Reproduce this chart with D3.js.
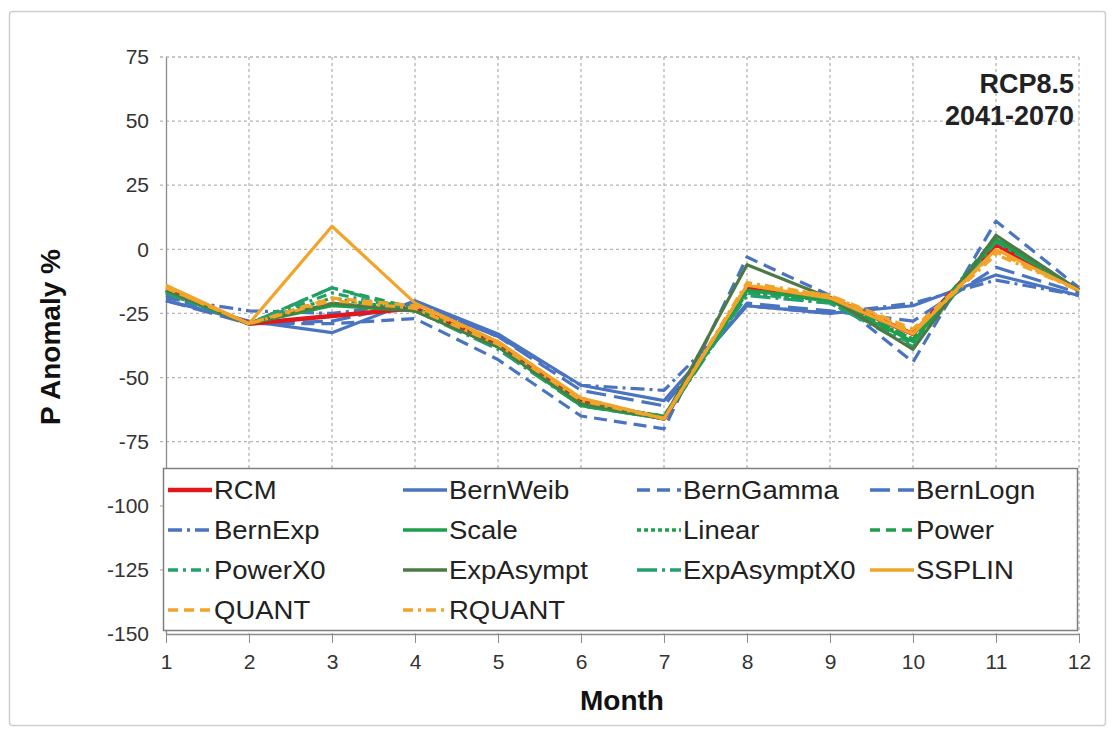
<!DOCTYPE html>
<html>
<head>
<meta charset="utf-8">
<script src="https://cdn.jsdelivr.net/npm/d3@7"></script>
<style>
  body { margin: 0; background: #fff; }
  svg { display: block; font-family: "Liberation Sans", Arial, sans-serif; }
</style>
</head>
<body>
<svg width="1115" height="731"></svg>
<script>
// months on the x axis
var months = [1, 2, 3, 4, 5, 6, 7, 8, 9, 10, 11, 12];
var yTicks = [-150, -125, -100, -75, -50, -25, 0, 25, 50, 75];

// precipitation anomaly (%) per method
var RCM         = [-16, -29, -26, -23, -37, -59, -66, -15, -19, -33,  2,  -16];
var BernWeib    = [-20, -28, -32.5, -20, -33, -53, -59, -22, -25, -22, -10, -18];
var BernGamma   = [-18, -29, -29, -27, -43, -65, -70,  -3, -18, -44, 11,  -15];
var BernLogn    = [-20, -29, -28, -21, -34, -55, -61, -21, -24, -28, -7,  -17];
var BernExp     = [-19, -24, -25, -21, -34, -53, -55, -22, -25, -21, -12, -18];
var Scale       = [-16, -29, -22, -24, -38, -61, -66, -16, -20, -36,  4,  -16];
var Linear      = [-16, -29, -19, -24, -38, -60, -65, -17, -20, -35,  3,  -16];
var Power       = [-16, -29, -15, -23, -38, -60, -65, -16, -19, -35,  5,  -16];
var PowerX0     = [-17, -29, -17, -24, -38, -61, -66, -17, -21, -37,  4,  -16];
var ExpAsympt   = [-16, -29, -21, -24, -38, -60, -66,  -6, -19, -39, 5.5, -16];
var ExpAsymptX0 = [-17, -29, -15, -24, -39, -61, -66, -18, -21, -38,  3,  -16];
var SSPLIN      = [-14, -29,   9, -21, -36, -58, -66, -14, -19, -33,  0,  -16];
var QUANT       = [-15, -29, -19, -22, -36, -58, -66, -14, -18, -31, -1,  -16];
var RQUANT      = [-15, -29, -20, -23, -37, -59, -66, -13, -18, -32, -2,  -16];

var seriesNames = ["RCM", "BernWeib", "BernGamma", "BernLogn", "BernExp", "Scale", "Linear",
    "Power", "PowerX0", "ExpAsympt", "ExpAsymptX0", "SSPLIN", "QUANT", "RQUANT"];
var seriesValues = [RCM, BernWeib, BernGamma, BernLogn, BernExp, Scale, Linear,
    Power, PowerX0, ExpAsympt, ExpAsymptX0, SSPLIN, QUANT, RQUANT];

// line look per method
var blue = "#4a74c0", green = "#1f9e4b", teal = "#25a06c", orange = "#f2a42a";
var styles = {
    RCM:         { color: "#e3161b", dash: null, w: 4.5 },
    BernWeib:    { color: blue, dash: null, w: 3.2 },
    BernGamma:   { color: blue, dash: "13,7", w: 3.2 },
    BernLogn:    { color: blue, dash: "20,8", w: 3.2 },
    BernExp:     { color: blue, dash: "14,5,3,5", w: 3.2 },
    Scale:       { color: green, dash: null, w: 3.2 },
    Linear:      { color: green, dash: "4,3", w: 3.2 },
    Power:       { color: green, dash: "10,6", w: 3.2 },
    PowerX0:     { color: teal, dash: "10,5,3,5", w: 3.2 },
    ExpAsympt:   { color: "#4d7a44", dash: null, w: 3.2 },
    ExpAsymptX0: { color: teal, dash: "20,5,3,5", w: 3.2 },
    SSPLIN:      { color: orange, dash: null, w: 3.2 },
    QUANT:       { color: orange, dash: "10,6", w: 3.2 },
    RQUANT:      { color: orange, dash: "10,5,3,5", w: 3.2 }
};

var svg = d3.select("svg");

// outer frame
svg.append("rect")
    .attr("x", 9.5).attr("y", 11.5)
    .attr("width", 1096).attr("height", 714)
    .attr("rx", 3)
    .attr("fill", "#fff")
    .attr("stroke", "#cfcfcf")
    .attr("stroke-width", 1.5);

var x = d3.scaleLinear().domain([1, 12]).range([166, 1079]);
var y = d3.scaleLinear().domain([-150, 75]).range([634, 57]);

// grid
var grid = svg.append("g");
grid.selectAll(".hg")
    .data(yTicks.filter(d => d > -150))
    .enter().append("line")
    .attr("x1", x(1) - 6).attr("x2", x(12))
    .attr("y1", d => y(d)).attr("y2", d => y(d))
    .attr("stroke", "#b5b5b5")
    .attr("stroke-width", 1.3)
    .attr("stroke-dasharray", "3,3");
grid.selectAll(".vg")
    .data(months.filter(d => d > 1))
    .enter().append("line")
    .attr("x1", d => x(d)).attr("x2", d => x(d))
    .attr("y1", y(75)).attr("y2", y(-150))
    .attr("stroke", "#b5b5b5")
    .attr("stroke-width", 1.3)
    .attr("stroke-dasharray", "3,3");

// y axis
var yAxis = svg.append("g")
    .attr("transform", "translate(" + x(1) + ",0)")
    .call(d3.axisLeft(y).tickValues(yTicks).tickFormat(d => String(d)).tickSize(0).tickSizeOuter(0));
yAxis.select(".domain").attr("stroke", "#8c8c8c").attr("stroke-width", 1.3);
yAxis.selectAll(".tick text")
    .attr("x", -17)
    .attr("fill", "#333")
    .style("font-size", "21px")
    .style("font-family", "Liberation Sans, Arial, sans-serif");

// x axis
var xAxis = svg.append("g")
    .attr("transform", "translate(0," + y(-150) + ")")
    .call(d3.axisBottom(x).tickValues(months).tickFormat(d => String(d)).tickSize(9).tickSizeOuter(0));
xAxis.select(".domain").attr("stroke", "#8c8c8c").attr("stroke-width", 1.3);
xAxis.selectAll(".tick line").attr("stroke", "#8c8c8c");
xAxis.selectAll(".tick text")
    .attr("y", 20)
    .attr("fill", "#333")
    .style("font-size", "21px")
    .style("font-family", "Liberation Sans, Arial, sans-serif");

// lines
var line = d3.line()
    .x((d, i) => x(months[i]))
    .y(d => y(d));

var drawOrder = ["BernGamma", "BernLogn", "BernExp", "BernWeib", "RCM", "Linear", "Power", "PowerX0",
    "ExpAsymptX0", "Scale", "ExpAsympt", "QUANT", "RQUANT", "SSPLIN"];
svg.append("g")
    .selectAll("path")
    .data(drawOrder)
    .enter().append("path")
    .attr("d", d => line(seriesValues[seriesNames.indexOf(d)]))
    .attr("fill", "none")
    .attr("stroke", d => styles[d].color)
    .attr("stroke-width", d => styles[d].w)
    .attr("stroke-dasharray", d => styles[d].dash)
    .attr("stroke-linejoin", "round");

// legend
var leg = svg.append("g");
leg.append("rect")
    .attr("x", 163.5).attr("y", 468.5)
    .attr("width", 914).attr("height", 162)
    .attr("fill", "#fff")
    .attr("stroke", "#7f7f7f")
    .attr("stroke-width", 1.5);

var colX = [168, 403, 637, 870];
var rowY = [490, 530, 570, 610];
var item = leg.selectAll(".item")
    .data(seriesNames)
    .enter().append("g")
    .attr("transform", (d, i) => "translate(" + colX[i % 4] + "," + rowY[Math.floor(i / 4)] + ")");
item.append("line")
    .attr("x1", 0).attr("x2", 44)
    .attr("stroke", d => styles[d].color)
    .attr("stroke-width", d => d == "RCM" ? 4.5 : 3.5)
    .attr("stroke-dasharray", d => styles[d].dash);
item.append("text")
    .attr("transform", "translate(46,0) scale(1.1,1)")
    .attr("dy", "0.35em")
    .attr("fill", "#222")
    .style("font-size", "25px")
    .text(d => d);

// scenario label
var lab = svg.append("g")
    .attr("text-anchor", "end")
    .style("font-weight", "bold")
    .style("font-size", "27px")
    .attr("fill", "#222");
lab.append("text").attr("x", 1074).attr("y", 93).text("RCP8.5");
lab.append("text").attr("x", 1074).attr("y", 125).text("2041-2070");

// axis titles
svg.append("text")
    .attr("x", 622).attr("y", 710)
    .attr("text-anchor", "middle")
    .style("font-weight", "bold")
    .style("font-size", "28px")
    .attr("fill", "#111")
    .text("Month");
svg.append("text")
    .attr("transform", "translate(60,337) rotate(-90)")
    .attr("text-anchor", "middle")
    .style("font-weight", "bold")
    .style("font-size", "28px")
    .attr("fill", "#111")
    .text("P Anomaly %");
</script>
</body>
</html>
